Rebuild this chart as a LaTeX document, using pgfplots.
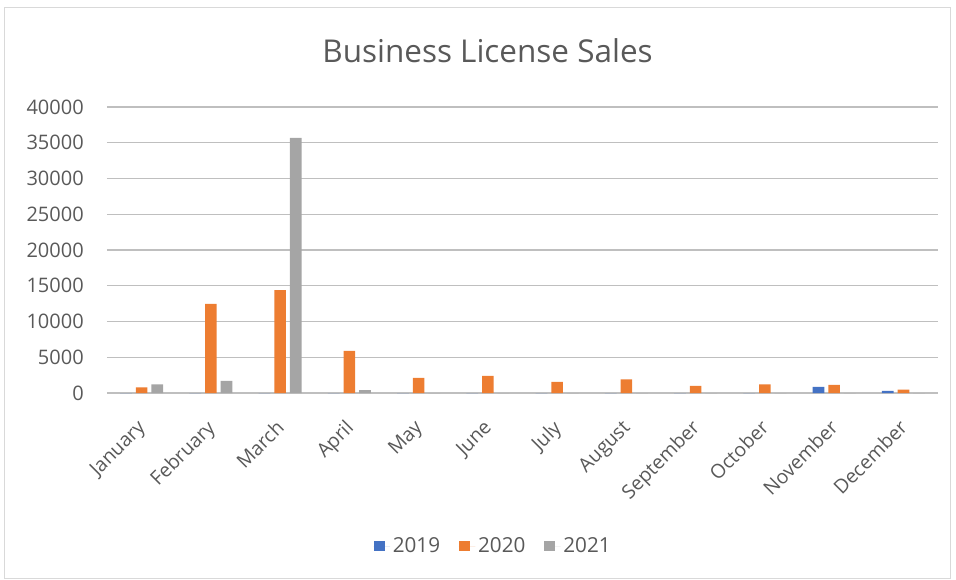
\documentclass[border=0pt]{standalone}
\usepackage{pgfplots}
\pgfplotsset{compat=1.18}
\usepackage{fontspec}
\setmainfont{Open Sans}
\definecolor{cA}{HTML}{4472C4}
\definecolor{cB}{HTML}{ED7D31}
\definecolor{cC}{HTML}{A5A5A5}
\definecolor{grid}{HTML}{D9D9D9}
\definecolor{txt}{HTML}{595959}
\begin{document}
\begin{tikzpicture}
\useasboundingbox (-80.25pt,-139.5pt) rectangle (636.75pt,294.75pt);
\draw[grid, line width=0.75pt] (-76.5pt,-138.75pt) rectangle (632.25pt,288.75pt);
\begin{axis}[
  at={(0pt,0pt)}, anchor=south west,
  scale only axis, width=623.25pt, height=214.5pt,
  ybar=2.85pt, bar width=8.8pt,
  xmin=-0.5, xmax=11.5, ymin=0, ymax=40000,
  enlarge x limits=false,
  axis line style={draw=none},
  major tick length=0pt,
  xmajorgrids=false, ymajorgrids=true, grid style={grid, line width=0.9pt},
  scaled y ticks=false,
  ytick={0,5000,10000,15000,20000,25000,30000,35000,40000},
  xtick={0,...,11},
  xticklabels={January,February,March,April,May,June,July,August,September,October,November,December},
  /pgf/number format/1000 sep={},
  /pgf/number format/assume math mode=true,
  yticklabel style={font=\fontsize{15}{18}\selectfont, text=txt, anchor=east, inner sep=0pt, xshift=-17.25pt},
  xticklabel style={font=\fontsize{14.6}{18}\selectfont, text=txt, yshift=-19pt, xshift=-4pt, rotate=45, anchor=north east, inner sep=0pt},
  legend style={draw=none, at={(0.465,-0.535)}, anchor=center, legend columns=3, font=\fontsize{15.5}{18}\selectfont, text=txt, /tikz/every even column/.append style={column sep=12pt}},
  legend image code/.code={\fill[#1] (0pt,-4.1pt) rectangle (8.25pt,4.1pt); \path (0pt,0pt) -- (12.5pt,0pt);},
  clip=false,
]
\addplot[fill=cA, draw=none] coordinates {(0,0) (1,0) (2,0) (3,0) (4,0) (5,0) (6,0) (7,0) (8,0) (9,0) (10,850) (11,300)};
\addplot[fill=cB, draw=none] coordinates {(0,800) (1,12450) (2,14400) (3,5900) (4,2100) (5,2400) (6,1550) (7,1900) (8,1000) (9,1200) (10,1150) (11,470)};
\addplot[fill=cC, draw=none] coordinates {(0,1200) (1,1700) (2,35700) (3,400) (4,0) (5,0) (6,0) (7,0) (8,0) (9,0) (10,0) (11,0)};
\legend{2019,2020,2021}
\end{axis}
\node[anchor=base, text=txt, font=\fontsize{23.6}{28}\selectfont] at (285.4pt,248pt) {Business License Sales};
\end{tikzpicture}
\end{document}
